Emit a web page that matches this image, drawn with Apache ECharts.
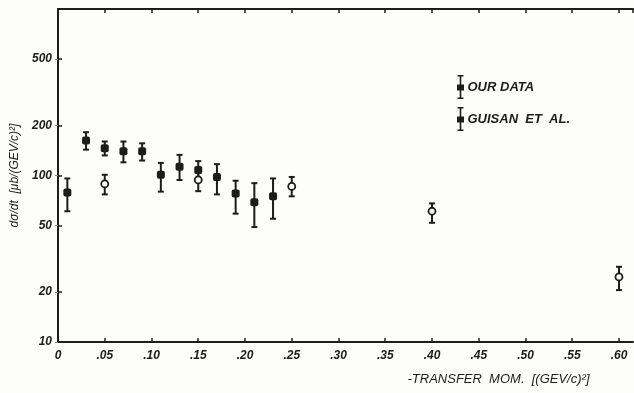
<!DOCTYPE html>
<html>
<head>
<meta charset="utf-8">
<script src="https://cdn.jsdelivr.net/npm/echarts@6/dist/echarts.min.js"></script>
<style>
  html, body { margin: 0; padding: 0; background: #fdfdfc; }
  #chart { width: 634px; height: 393px; }
</style>
</head>
<body>
<div id="chart"></div>
<script>
// -t values and dsigma/dt (with error bounds)
const ourT = [0.05, 0.15, 0.25, 0.40, 0.60];
const ourVal = [89, 94, 86, 61, 24.6];
const ourLo = [77, 80.5, 75, 52, 20.5];
const ourHi = [101, 104, 98, 68, 28.3];

const guiT = [0.01, 0.03, 0.05, 0.07, 0.09, 0.11, 0.13, 0.15, 0.17, 0.19, 0.21, 0.23];
const guiVal = [79, 162, 146, 140, 140, 101, 113, 108, 98, 78, 69, 75];
const guiLo = [61, 143, 132, 120, 123, 80, 94, 96, 77, 59, 49, 55];
const guiHi = [96, 182, 160, 160, 156, 119, 133, 122, 117, 93, 90, 96];

const yTicks = [10, 20, 50, 100, 200, 500];
const xTickStep = 0.05;

const ink = "#1c1c1c";
const labelFont = { fontFamily: "Liberation Sans", fontStyle: "italic", fontWeight: "bold", fontSize: 12, color: ink };
const nameFont = { fontFamily: "Liberation Sans", fontStyle: "italic", fontSize: 13, letterSpacing: 1, color: ink };

const chart = echarts.init(document.getElementById("chart"));

function errorBars(t, lo, hi) {
  return t.map((x, i) => [x, lo[i], hi[i]]);
}

function renderBar(params, api) {
  const x = api.value(0);
  const lo = api.coord([x, api.value(1)]);
  const hi = api.coord([x, api.value(2)]);
  const cap = 3;
  const style = { stroke: ink, lineWidth: 2 };
  return {
    type: "group",
    children: [
      { type: "line", shape: { x1: lo[0], y1: lo[1], x2: hi[0], y2: hi[1] }, style },
      { type: "line", shape: { x1: hi[0] - cap, y1: hi[1], x2: hi[0] + cap, y2: hi[1] }, style },
      { type: "line", shape: { x1: lo[0] - cap, y1: lo[1], x2: lo[0] + cap, y2: lo[1] }, style }
    ]
  };
}

const legendIcon = "path://M2,0H8V1.5H2Z M4.2,0H5.8V24H4.2Z M2,22.5H8V24H2Z M1.5,9.5H8.5V15.5H1.5Z";

chart.setOption({
  backgroundColor: "#fdfdfc",
  animation: false,
  grid: { left: 58, right: 1, top: 9, bottom: 51 },
  legend: {
    orient: "vertical",
    left: 452,
    top: 70,
    itemWidth: 8,
    itemHeight: 24,
    itemGap: 8,
    icon: legendIcon,
    textStyle: { ...nameFont, fontWeight: "bold", padding: [0, 0, 0, -2] },
    data: [
      { name: "OUR DATA", itemStyle: { color: ink } },
      { name: "GUISAN  ET  AL.", itemStyle: { color: ink } }
    ]
  },
  xAxis: [
    {
      type: "value",
      min: 0,
      max: 0.615,
      interval: xTickStep,
      name: "-TRANSFER  MOM.  [(GEV/c)²]",
      nameLocation: "middle",
      nameGap: 31,
      nameTextStyle: { ...nameFont, padding: [0, 0, 0, 306] },
      axisLine: { lineStyle: { color: ink, width: 2 } },
      axisTick: { inside: true, length: 4, lineStyle: { color: ink, width: 1.5 } },
      splitLine: { show: false },
      axisLabel: {
        ...labelFont,
        margin: 8,
        showMaxLabel: false,
        formatter: v => (v === 0 ? "0" : v.toFixed(2).replace(/^0/, ""))
      }
    },
    {
      type: "value",
      position: "top",
      min: 0,
      max: 0.615,
      interval: xTickStep,
      axisLine: { show: true, lineStyle: { color: ink, width: 2 } },
      axisTick: { show: true, inside: true, length: 4, lineStyle: { color: ink, width: 1.5 } },
      axisLabel: { show: false },
      splitLine: { show: false }
    }
  ],
  yAxis: [
    {
      type: "log",
      logBase: 10,
      min: 10,
      max: 1000,
      name: "dσ/dt  [μb/(GEV/c)²]",
      nameLocation: "middle",
      nameGap: 36,
      nameRotate: 90,
      nameTextStyle: { ...nameFont, fontSize: 12 },
      axisLine: { show: true, lineStyle: { color: ink, width: 2 } },
      axisTick: { show: true, inside: true, length: 4, customValues: yTicks, lineStyle: { color: ink, width: 1.5 } },
      axisLabel: { ...labelFont, margin: 6, customValues: yTicks },
      splitLine: { show: false },
      minorTick: { show: false }
    },
    {
      type: "log",
      logBase: 10,
      min: 10,
      max: 1000,
      position: "right",
      axisLine: { show: false },
      axisTick: { show: true, inside: true, length: 3, customValues: yTicks, lineStyle: { color: "#888", width: 1 } },
      axisLabel: { show: false },
      splitLine: { show: false }
    }
  ],
  series: [
    {
      name: "OUR DATA",
      type: "custom",
      renderItem: renderBar,
      data: errorBars(ourT, ourLo, ourHi),
      encode: { x: 0, y: [1, 2] },
      z: 2
    },
    {
      name: "GUISAN  ET  AL.",
      type: "custom",
      renderItem: renderBar,
      data: errorBars(guiT, guiLo, guiHi),
      encode: { x: 0, y: [1, 2] },
      z: 2
    },
    {
      name: "OUR DATA",
      type: "scatter",
      data: ourT.map((x, i) => [x, ourVal[i]]),
      symbol: "circle",
      symbolSize: 7,
      itemStyle: { color: "#fdfdfc", borderColor: ink, borderWidth: 1.8, opacity: 1 },
      z: 3
    },
    {
      name: "GUISAN  ET  AL.",
      type: "scatter",
      data: guiT.map((x, i) => [x, guiVal[i]]),
      symbol: "roundRect",
      symbolSize: 8,
      itemStyle: { color: ink, opacity: 1 },
      z: 3
    }
  ]
});
</script>
</body>
</html>
